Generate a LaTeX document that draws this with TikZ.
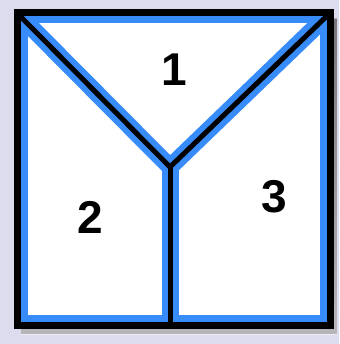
\documentclass[tikz,border=0pt]{standalone}
\usepackage{fontspec}
\setmainfont{Liberation Sans}
\usepackage{tikz}
\usetikzlibrary{calc}
\definecolor{bgback}{RGB}{220,220,238}
\definecolor{shade}{RGB}{170,170,200}
\definecolor{glow}{RGB}{55,140,250}
\tikzset{
  rim/.style={line width=7pt, color=black, line cap=rect},
  cut/.style={line width=5pt, color=black, line cap=round},
  glowrim/.style={line width=21pt, color=glow},
  glowcut/.style={line width=17pt, color=glow, line cap=round},
  num/.style={font=\fontsize{46}{46}\selectfont\bfseries, inner sep=0pt}
}
\begin{document}
\begin{tikzpicture}[x=1pt, y=-1pt]
\fill[bgback] (0,0) rectangle (339,344);
\useasboundingbox (0,0) rectangle (339,344);
\coordinate (tl) at (17,13);
\coordinate (tr) at (330,13);
\coordinate (br) at (330,325);
\coordinate (bl) at (17,325);
\coordinate (mid) at (170,167);
\coordinate (bot) at (170,325);
% soft shadow
\fill[shade, opacity=0.5] ($(tl)+(4,6)$) rectangle ($(br)+(7,9)$);
\fill[white] (tl) rectangle (br);
\begin{scope}
  \clip (tl) rectangle (br);
  \draw[glowrim] (tl) rectangle (br);
  \draw[glowcut] (tl) -- (mid) -- (tr);
  \draw[glowcut] (mid) -- (bot);
\end{scope}
\draw[cut] (tl) -- (mid) -- (tr);
\draw[cut] (mid) -- (bot);
\draw[rim] (tl) rectangle (br);
\node[num] (n1) at (174,70) {1};
\node[num] (n2) at (90,217) {2};
\node[num] (n3) at (274,197) {3};
\end{tikzpicture}
\end{document}
